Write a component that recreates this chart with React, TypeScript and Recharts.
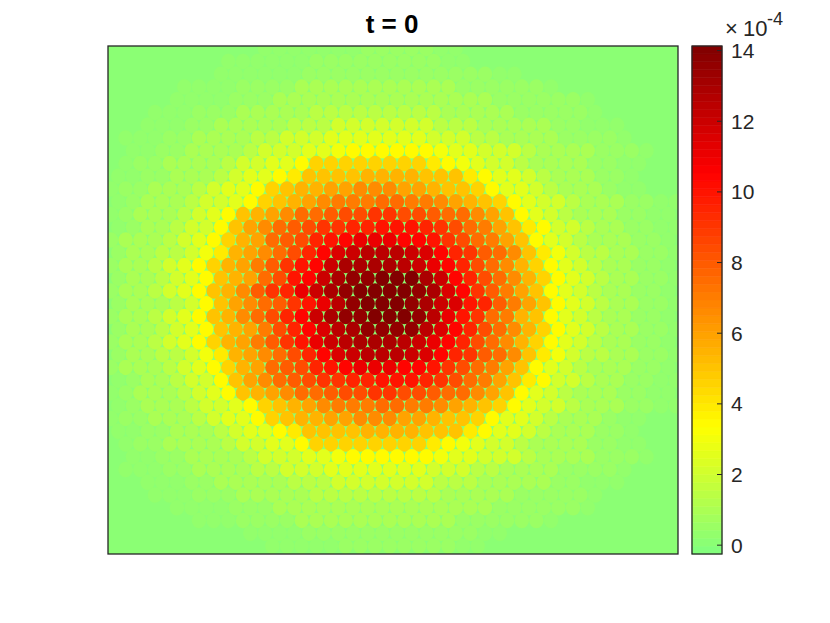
import { ReferenceArea, Scatter, ScatterChart, XAxis, YAxis } from "recharts";

// Lattice rows top to bottom. Each char is value * 2 in base 36 (units of 1e-4), "x" is the faint
// outer fringe. Split at the peak column so the two halves stay easy to read.
const leftOfPeak = [
  "0000000000xxxxxxx11",
  "00000000xxxxxx11111",
  "0000000xxxxxx111111",
  "00000xxxx1111222222",
  "0000xxxx11122222222",
  "000xxx1112222233333",
  "00xxx11222223334444",
  "0xxx112222334445555",
  "0xx1122223444556777",
  "0x11222234455799999",
  "xx11222345578aaaabb",
  "x11222345579abbccdd",
  "x1222344579abcdeeef",
  "x12223457abcdffghhi",
  "x1223447acdfghiijjk",
  "122234579bcfghjklmm",
  "12233468bcdfhjlnopp",
  "12234579bcegikloqqq",
  "1223457abcfhkloqrrs",
  "1223457abdgijmoqrss",
  "1222347acdfgikmprss",
  "1223457abdfhjloqrrs",
  "1223457abcehjlnpqrr",
  "12234579bcegikmopqq",
  "12233468bcdfhjlnopp",
  "122234579bcfghjklmm",
  "x1223447acdfghiijjk",
  "x12223457abcdffghhi",
  "x1222344579abcdeeef",
  "x11222345579abbccdd",
  "xx11222345578aaaabb",
  "0x11222234455799999",
  "0xx1122223444556777",
  "0xxx112222334445555",
  "00xxx11222223334444",
  "000xxx1112222233333",
  "0000xxxx11122222222",
  "000000xxx1111222222",
  "000000000xxxx111111",
  "00000000000xxxxx111",
];

const rightOfPeak = [
  "111xx000000000000000",
  "1111xx00000000000000",
  "1111111xx00000000000",
  "22222111111x00000000",
  "2222222111111x000000",
  "33332222211111x00000",
  "4443332222211xxx0000",
  "5554443322221111x000",
  "77765544432222111x00",
  "9998765443222211xx00",
  "bbaaa87554322211x000",
  "dccbaa9755432221xx00",
  "feedcba97544322211xx",
  "ihhgffdca754322211xx",
  "kkjihfeca874432211xx",
  "mllkihfeca754322211x",
  "ponljigfda864332211x",
  "qpomljhfdb975432211x",
  "ssqoljhfdb975432211x",
  "ssrqnligeca75432211x",
  "srqonkjgeca75432211x",
  "ssrpmkifeba75432211x",
  "rrpnljhfdb975432211x",
  "qpomljhfdb975432211x",
  "ponljigfda864332211x",
  "mllkihfeca754322211x",
  "kkjihfeca874432211xx",
  "ihhgffdca754322211xx",
  "feedcba97544322211xx",
  "dccbaa9755432221xx00",
  "bbaaa87554322211x000",
  "9998765443222211xx00",
  "77765544432222111x00",
  "5554443322221111x000",
  "4443332222211xxx0000",
  "33332222211111x00000",
  "2222222111111x000000",
  "22222111111x00000000",
  "111111xx000000000000",
  "11111xx0000000000000",
];

const colorTicks = [0, 2, 4, 6, 8, 10, 12, 14];
const colorMin = -0.25;
const colorMax = 14.13;
const bandCount = 64;

const ink = "#262626";
const font = "'Liberation Sans', Arial, sans-serif";

// upper half of jet: green -> yellow -> red -> dark red
function colorAt(value: number) {
  const idx = Math.min(bandCount - 1, Math.max(0, Math.floor(((value - colorMin) / (colorMax - colorMin)) * bandCount)));
  const t = (idx + 0.5) / bandCount;
  let r = 1;
  let g = 1;
  let b = 0;
  if (t < 0.25) {
    r = 0.5 + 2 * t;
    b = 0.5 - 2 * t;
  } else if (t < 0.75) {
    g = 1 - (t - 0.25) * 2;
  } else {
    g = 0;
    r = 1 - (t - 0.75) * 2;
  }
  return `rgb(${Math.round(r * 255)},${Math.round(g * 255)},${Math.round(b * 255)})`;
}

const decode = (ch: string) => (ch === "x" ? 0.25 : parseInt(ch, 36) / 2);

const points = leftOfPeak
  .flatMap((left, rowIdx) =>
    (left + rightOfPeak[rowIdx]).split("").map((ch, colIdx) => ({
      col: colIdx - (rowIdx % 2 === 1 ? 0.5 : 0),
      row: rowIdx,
      value: decode(ch),
    })),
  )
  .filter((p) => p.value > 0);

const bands = Array.from({ length: bandCount }, (_, i) => {
  const low = colorMin + ((colorMax - colorMin) * i) / bandCount;
  const high = colorMin + ((colorMax - colorMin) * (i + 1)) / bandCount;
  return { low, high, fill: colorAt((low + high) / 2), x: 0.5 };
});

const colDomain = [-0.7, 38.15];
const rowDomain = [-0.21, 39.63];

function Dot(props: any) {
  return <ellipse cx={props.cx} cy={props.cy} rx={7.2} ry={7.7} fill={colorAt(props.payload.value)} />;
}

const layer = { position: "absolute", left: 0, top: 0 } as const;
const barMargin = { top: 46, right: 48, bottom: 69, left: 692 };

export default function App() {
  return (
    <div style={{ position: "absolute", left: 0, top: 0, width: 830, height: 623, background: "#fff" }}>
      <div style={layer}>
        <ScatterChart width={830} height={623} margin={{ top: 46, right: 152, bottom: 69, left: 108 }}>
          <XAxis type="number" dataKey="col" domain={colDomain} allowDataOverflow hide />
          <YAxis type="number" dataKey="row" domain={rowDomain} reversed allowDataOverflow hide />
          <ReferenceArea x1={colDomain[0]} x2={colDomain[1]} y1={rowDomain[0]} y2={rowDomain[1]} fill={colorAt(0)} fillOpacity={1} stroke="none" />
          <Scatter data={points} shape={Dot} isAnimationActive={false} />
          <text x={392} y={33} textAnchor="middle" fontFamily={font} fontWeight="bold" fontSize={26} fill="#000">
            t = 0
          </text>
        </ScatterChart>
      </div>
      <div style={layer}>
        <ScatterChart width={830} height={623} margin={barMargin}>
          <XAxis type="number" dataKey="x" domain={[0, 1]} hide />
          <YAxis orientation="right" type="number" dataKey="low" width={60} domain={[colorMin, colorMax]} tick={false} axisLine={false} tickLine={false} />
          {bands.map((band) => (
            <ReferenceArea key={band.low} x1={0} x2={1} y1={band.low} y2={band.high} fill={band.fill} fillOpacity={1} stroke={band.fill} strokeWidth={0.6} />
          ))}
          <Scatter data={bands} shape={() => null} isAnimationActive={false} />
        </ScatterChart>
      </div>
      <div style={layer}>
        <ScatterChart width={830} height={623} margin={barMargin}>
          <XAxis type="number" dataKey="x" domain={[0, 1]} hide />
          <YAxis
            orientation="right"
            type="number"
            dataKey="low"
            width={60}
            domain={[colorMin, colorMax]}
            ticks={colorTicks}
            interval={0}
            axisLine={false}
            tickSize={-5}
            tickMargin={14}
            tickLine={{ stroke: ink }}
            tick={{ fill: ink, fontSize: 21, fontFamily: font }}
          />
          <Scatter data={bands} shape={() => null} isAnimationActive={false} />
          <rect x={108} y={46} width={570} height={508} fill="none" stroke={ink} strokeWidth={1.3} />
          <rect x={692} y={46} width={30} height={508} fill="none" stroke={ink} strokeWidth={1.3} />
          <text x={725} y={36} fontFamily={font} fontSize={22} fill={ink}>
            ×
          </text>
          <text x={743} y={36} fontFamily={font} fontSize={22} fill={ink}>
            10
          </text>
          <text x={767} y={25} fontFamily={font} fontSize={18} fill={ink}>
            -4
          </text>
        </ScatterChart>
      </div>
    </div>
  );
}
